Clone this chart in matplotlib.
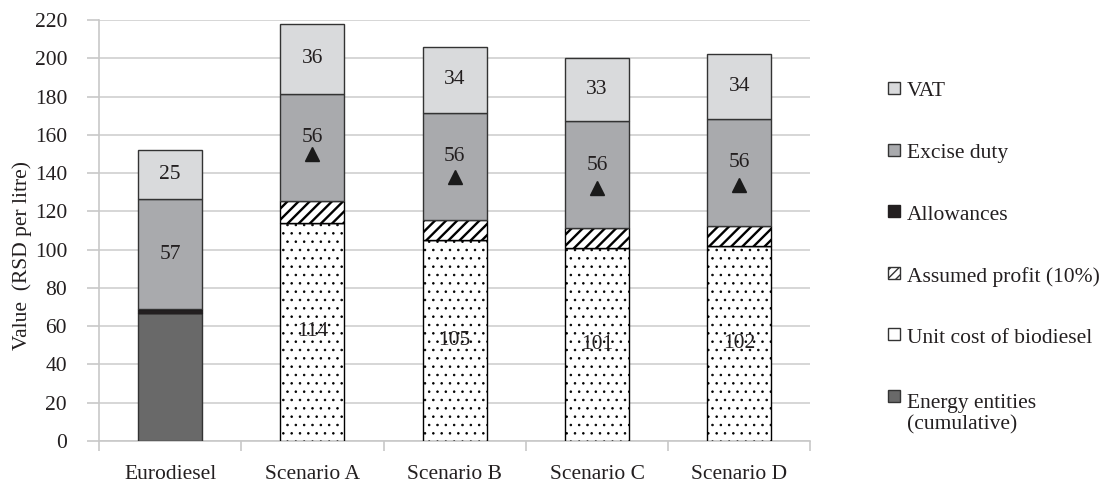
import matplotlib
matplotlib.use("Agg")
import matplotlib.pyplot as plt
from matplotlib.patches import Rectangle

# Price structure per litre (RSD)
categories = ["Eurodiesel", "Scenario A", "Scenario B", "Scenario C", "Scenario D"]
energy_entities = [67.0, 0, 0, 0, 0]
unit_cost = [0, 114, 105, 101, 102]
profit = [0, 11.4, 10.5, 10.1, 10.2]
allowances = [2.0, 0, 0, 0, 0]
excise = [57.4, 56, 56, 56, 56]
vat = [25.4, 36.4, 34.4, 33.0, 34.0]
marker_values = [None, 150, 138, 132, 134]
yticks = list(range(0, 221, 20))

legend_labels = ["VAT", "Excise duty", "Allowances", "Assumed profit (10%)",
                 "Unit cost of biodiesel", "Energy entities\n(cumulative)"]

plt.rcParams["font.family"] = ["Liberation Serif", "DejaVu Serif"]
FS = 15.5
TXT = "#231f20"

fig = plt.figure(figsize=(11.03, 4.84), dpi=100)
ax = fig.add_axes([0.0898, 0.0888, 0.645, 0.870])

x = list(range(len(categories)))
w = 0.45
edge = "#333333"

# (values, bar style, hatch line width, show value labels)
styles = [
    (energy_entities, dict(color="#696969", edgecolor=edge), 1.0, False),
    (unit_cost, dict(color="white", edgecolor="black", hatch=".."), 0.6, True),
    (allowances, dict(color="#231f20", edgecolor="#231f20"), 1.0, False),
    (profit, dict(color="white", edgecolor="black", hatch="///"), 1.7, False),
    (excise, dict(color="#a9aaad", edgecolor=edge), 1.0, True),
    (vat, dict(color="#d9dadc", edgecolor=edge), 1.0, True),
]

bottom = [0.0] * len(categories)
for values, kw, hlw, labelled in styles:
    with plt.rc_context({"hatch.linewidth": hlw}):
        bars = ax.bar(x, values, w, bottom=bottom, linewidth=1.0, zorder=3, **kw)
        for b in bars:
            if hasattr(b, "set_hatch_linewidth"):
                b.set_hatch_linewidth(hlw)
    if labelled:
        for xi, b, v, m in zip(x, bottom, values, marker_values):
            if v > 0:
                # lift the label slightly where a marker sits in the segment
                dy = 7 if (m is not None and b < m < b + v) else 0
                ax.annotate(f"{v:.0f}", (xi, b + v / 2), xytext=(0, dy),
                            textcoords="offset points", ha="center",
                            va="center", fontsize=FS, color=TXT, zorder=5)
    bottom = [b + v for b, v in zip(bottom, values)]

mx = [xi for xi, m in zip(x, marker_values) if m is not None]
my = [m for m in marker_values if m is not None]
ax.plot(mx, my, linestyle="none", marker="^", markersize=10, color="#1a1a1a",
        zorder=6)

ax.set_xlim(-0.5, len(categories) - 0.5)
ax.set_ylim(0, 220)
ax.set_yticks(yticks)
ax.set_xticks(x)
ax.set_xticklabels(categories, fontsize=FS, color=TXT)
ax.tick_params(axis="x", length=0, pad=17)
ax.tick_params(axis="y", labelsize=FS, labelcolor=TXT, length=9,
               color="#c8c8c8", width=1.2, pad=14)
# category boundary ticks on the x axis
ax.set_xticks([i - 0.5 for i in range(len(categories) + 1)], minor=True)
ax.tick_params(axis="x", which="minor", length=7, color="#c8c8c8", width=1.2)
ax.grid(axis="y", color="#cfcfcf", linewidth=1.2, zorder=0)
for s in ["top", "right"]:
    ax.spines[s].set_visible(False)
for s in ["left", "bottom"]:
    ax.spines[s].set_color("#c8c8c8")
    ax.spines[s].set_linewidth(1.2)
ax.set_ylabel("Value  (RSD per litre)", fontsize=FS, color=TXT)
ax.yaxis.set_label_coords(-0.094, 0.44)

# legend entries drawn down the right-hand side
legend_styles = [styles[5], styles[4], styles[2], styles[3], styles[1], styles[0]]
W, H = 1103.0, 484.0
for i, (lab, st) in enumerate(zip(legend_labels, legend_styles)):
    kw = st[1]
    yc = 92 + i * 61.6
    with plt.rc_context({"hatch.linewidth": 1.0}):
        r = Rectangle((888 / W, 1 - (yc + 2) / H), 12 / W, 12 / H,
                      transform=fig.transFigure, facecolor=kw["color"],
                      edgecolor="#333333" if kw["color"] != "#231f20" else "#231f20",
                      hatch=("////" if kw.get("hatch") == "///" else None),
                      linewidth=1.0)
    fig.add_artist(r)
    if "\n" in lab:
        fig.text(907 / W, 1 - (yc + 14) / H, lab, fontsize=FS, va="center",
                 ha="left", color=TXT, linespacing=1.15)
    else:
        fig.text(907 / W, 1 - yc / H, lab, fontsize=FS, va="center",
                 ha="left", color=TXT)

fig.savefig("out.png", dpi=100)
